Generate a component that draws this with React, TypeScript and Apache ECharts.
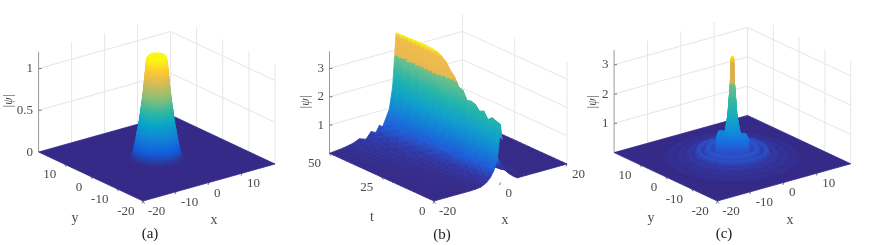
import React, { useEffect, useRef } from "react";
import * as echarts from "echarts";

const N = null;

// ---------- panel (a): radial profile of |psi| ----------
const aRadii = [0, 1, 1.6, 2.0, 2.3, 2.5, 2.8, 3.0, 3.4, 3.8, 4.2, 4.7, 5.1, 5.5, 5.8, 6.1, 6.5];
const aHeights = [1.17, 1.18, 1.21, 1.22, 1.2, 1.15, 1.0, 0.89, 0.72, 0.575, 0.43, 0.3, 0.19, 0.1, 0.05, 0.02, 0];

// ---------- panel (c): radial profile and angular lump ----------
const cRadii = [0, 0.3, 0.5, 0.8, 1.1, 1.7, 2.2, 2.8, 3.3, 3.7, 4, 4.5, 5, 5.5, 6, 6.5, 7, 7.5, 8, 8.5, 9, 9.5, 10, 10.5, 11, 11.5, 12, 12.5, 13, 13.5, 14, 14.5, 15, 15.5, 16, 16.5, 17];
const cHeights = [3.48, 3.4, 2.55, 2.0, 1.45, 0.95, 0.72, 0.74, 0.72, 0.6, 0.26, 0.2, 0.2, 0.34, 0.38, 0.26, 0.14, 0.22, 0.32, 0.28, 0.13, 0.09, 0.17, 0.18, 0.1, 0.05, 0.08, 0.12, 0.08, 0.04, 0.04, 0.07, 0.08, 0.05, 0.02, 0.01, 0];
// multiplier on inner rings (r 2..5) per 15-degree sector
const cLump = [0.95, 1.0, 1.05, 1.05, 1.0, 0.95, 0.9, 0.95, 1.15, 1.25, 1.15, 0.85, 0.6, 0.5, 0.45, 0.45, 0.5, 0.5, 0.55, 0.7, 1.0, 1.15, 1.1, 1.0];

// ---------- panel (b): |psi|(x, t) ----------
const bX = [-20, -16, -13, -11, -9, -7.5, -6, -5, -4, -3, -2, -1, -0.5, 0, 0.5, 1, 2, 3, 5, 8, 12, 20];
const bT = [0, 2, 4, 6, 8, 10, 12, 14, 16, 18, 20, 22, 24, 26, 28, 30, 32, 34, 36, 38, 40, 42, 44, 46, 48, 50];
const bRows = [
  [0, 0, 0, 0, 0, 0.01, 0.03, 0.08, 0.16, 0.28, 0.48, 0.8, 1.3, 2.05, 1.5, N, N, N, 0, 0, 0, 0],
  [0, 0, 0, 0, 0.01, 0.02, 0.05, 0.12, 0.22, 0.34, 0.5, 0.9, 1.4, 2.1, 1.6, N, N, N, 0, 0, 0, 0],
  [0, 0, 0, 0.01, 0.01, 0.03, 0.07, 0.1, 0.2, 0.4, 0.6, 0.78, 1.3, 2.15, 1.8, 1.3, N, N, 0.02, 0, 0, 0],
  [0, 0, 0, 0.01, 0.02, 0.05, 0.06, 0.15, 0.18, 0.3, 0.52, 0.95, 1.45, 2.02, 1.85, 1.35, 0.95, 0.55, 0.08, 0, 0, 0],
  [0, 0, 0.01, 0.01, 0.03, 0.03, 0.09, 0.11, 0.27, 0.38, 0.66, 0.85, 1.5, 2.25, 1.8, 1.3, 0.7, 0.35, 0.05, 0, 0, 0],
  [0, 0, 0.01, 0.02, 0.02, 0.06, 0.07, 0.18, 0.2, 0.33, 0.55, 1.0, 1.35, 2.18, 1.7, 1.1, 0.5, 0.2, 0.03, 0, 0, 0],
  [0, 0, 0.01, 0.02, 0.04, 0.05, 0.12, 0.13, 0.3, 0.44, 0.72, 0.88, 1.6, 2.35, 1.7, 1.0, 0.4, 0.15, 0.02, 0, 0, 0],
  [0, 0.01, 0.01, 0.03, 0.03, 0.08, 0.09, 0.22, 0.24, 0.36, 0.6, 1.1, 1.4, 2.4, 1.8, 0.9, 0.3, 0.1, 0.01, 0, 0, 0],
  [0, 0.01, 0.02, 0.02, 0.05, 0.06, 0.14, 0.16, 0.35, 0.5, 0.55, 0.8, 1.5, 2.36, 1.9, 0.85, 0.25, 0.08, 0, 0, 0, 0],
  [0, 0.01, 0.02, 0.04, 0.04, 0.1, 0.1, 0.25, 0.28, 0.4, 0.5, 0.9, 1.35, 2.65, 2.0, 0.8, 0.2, 0.06, 0, 0, 0, 0],
  [0, 0.01, 0.03, 0.03, 0.07, 0.07, 0.17, 0.2, 0.38, 0.42, 0.7, 1.0, 1.7, 2.7, 2.1, 0.7, 0.18, 0.05, 0, 0, 0, 0],
  [0, 0.01, 0.02, 0.05, 0.05, 0.12, 0.13, 0.3, 0.28, 0.46, 0.62, 1.2, 1.6, 3.0, 2.2, 0.7, 0.18, 0.04, 0, 0, 0, 0],
  [0, 0.02, 0.04, 0.04, 0.09, 0.09, 0.2, 0.22, 0.42, 0.5, 0.78, 1.05, 1.9, 3.15, 2.3, 0.8, 0.18, 0.04, 0, 0, 0, 0],
  [0, 0.02, 0.03, 0.07, 0.07, 0.15, 0.15, 0.34, 0.32, 0.48, 0.7, 1.25, 2.0, 3.38, 2.4, 0.9, 0.2, 0.04, 0, 0, 0, 0],
  [0, 0.02, 0.05, 0.05, 0.11, 0.11, 0.24, 0.25, 0.46, 0.55, 0.85, 1.15, 2.3, 3.5, 2.5, 1.0, 0.22, 0.04, 0, 0, 0, 0],
  [0, 0.02, 0.04, 0.09, 0.08, 0.19, 0.18, 0.38, 0.34, 0.5, 0.75, 1.4, 2.55, 3.6, 2.6, 1.1, 0.25, 0.05, 0, 0, 0, 0],
  [0, 0.03, 0.06, 0.07, 0.14, 0.14, 0.28, 0.28, 0.5, 0.6, 0.92, 1.25, 2.62, 3.62, 2.6, 1.2, 0.28, 0.06, 0, 0, 0, 0],
  [0, 0.02, 0.05, 0.12, 0.1, 0.23, 0.2, 0.42, 0.38, 0.55, 0.82, 1.55, 2.6, 3.64, 2.6, 1.2, 0.3, 0.06, 0, 0, 0, 0],
  [0, 0.04, 0.08, 0.09, 0.17, 0.16, 0.32, 0.3, 0.52, 0.62, 1.0, 1.35, 2.66, 3.65, 2.6, 1.2, 0.3, 0.08, 0, 0, 0, 0],
  [0, 0.03, 0.06, 0.15, 0.12, 0.27, 0.24, 0.46, 0.42, 0.58, 0.86, 1.65, 2.62, 3.64, 2.6, 1.2, 0.3, 0.08, 0, 0, 0, 0],
  [0, 0.05, 0.1, 0.11, 0.2, 0.2, 0.36, 0.34, 0.56, 0.68, 1.05, 1.45, 2.68, 3.64, 2.6, 1.2, 0.3, 0.08, 0, 0, 0, 0],
  [0, 0.03, 0.07, 0.18, 0.14, 0.3, 0.26, 0.5, 0.46, 0.62, 0.9, 1.75, 2.64, 3.63, 2.6, 1.2, 0.3, 0.08, 0, 0, 0, 0],
  [0, 0.06, 0.12, 0.14, 0.24, 0.22, 0.4, 0.38, 0.6, 0.72, 1.08, 1.5, 2.7, 3.62, 2.6, 1.2, 0.3, 0.08, 0, 0, 0, 0],
  [0, 0.04, 0.09, 0.2, 0.16, 0.33, 0.3, 0.54, 0.48, 0.66, 0.92, 1.8, 2.66, 3.62, 2.6, 1.2, 0.3, 0.08, 0, 0, 0, 0],
  [0, 0.07, 0.14, 0.16, 0.27, 0.26, 0.42, 0.4, 0.62, 0.78, 1.1, 1.6, 2.7, 3.6, 2.6, 1.2, 0.3, 0.08, 0, 0, 0, 0],
  [0, 0.05, 0.12, 0.22, 0.14, 0.36, 0.28, 0.5, 0.42, 0.7, 0.98, 1.75, 2.68, 3.6, 2.6, 1.2, 0.3, 0.08, 0, 0, 0, 0],
];

// ---------- colour ramps: [height, colour] ----------
const aRamp: [number, string][] = [[0, "#352a87"], [0.15, "#1060dc"], [0.3, "#1481d6"], [0.45, "#06a4ca"], [0.6, "#2eb7a4"], [0.76, "#87bf77"], [0.92, "#d1bb59"], [1.07, "#fec832"], [1.22, "#f9fb0e"]];
const bRamp: [number, string][] = [[0, "#352a87"], [0.25, "#3038a8"], [0.55, "#1e5fd8"], [1.0, "#1481d6"], [1.5, "#10a0cc"], [2.1, "#22b4ac"], [2.84, "#72c088"], [2.86, "#e8b850"], [3.46, "#f0bc4c"], [3.64, "#f9fb0e"]];
const cRamp: [number, string][] = [[0, "#352a87"], [0.15, "#3336a0"], [0.32, "#2a50c8"], [0.6, "#1a6ce0"], [1.0, "#0e90d8"], [1.4, "#12a8c4"], [1.8, "#28b4a8"], [2.54, "#6cbf85"], [2.58, "#d8b050"], [3.25, "#dcb04e"], [3.48, "#f9e010"]];

// ---------- tick labels ----------
const aZ = [0, 0.5, 1];
const bZ = [1, 2, 3];
const cZ = [1, 2, 3];
const xTicksAC = [-20, -10, 0, 10];
const yTicksAC = [-20, -10, 0, 10];
const xTicksB = [-20, 0, 20];
const tTicksB = [0, 25, 50];

type P = { o: number[]; ex: number[]; ey: number[]; ez: number; xMin: number; yMin: number; xMax: number; yMax: number };
const pA: P = { o: [143, 201], ex: [3.3, -0.925], ey: [-2.61, -1.225], ez: 83.5, xMin: -20, yMin: -20, xMax: 20, yMax: 20 };
const pB: P = { o: [434, 201], ex: [3.325, -0.925], ey: [-2.09, -0.954], ez: 28.3, xMin: -20, yMin: 0, xMax: 20, yMax: 50 };
const pC: P = { o: [717.3, 201], ex: [3.335, -0.93], ey: [-2.58, -1.21], ez: 29.3, xMin: -20, yMin: -20, xMax: 20, yMax: 20 };

const proj = (p: P, x: number, y: number, z: number) => [
  p.o[0] + (x - p.xMin) * p.ex[0] + (y - p.yMin) * p.ey[0],
  p.o[1] + (x - p.xMin) * p.ex[1] + (y - p.yMin) * p.ey[1] - z * p.ez,
];

const hex = (c: string) => [1, 3, 5].map((i) => parseInt(c.slice(i, i + 2), 16));
function rampColor(ramp: [number, string][], z: number) {
  if (z <= ramp[0][0]) return ramp[0][1];
  for (let i = 1; i < ramp.length; i++) {
    if (z <= ramp[i][0]) {
      const f = (z - ramp[i - 1][0]) / (ramp[i][0] - ramp[i - 1][0]);
      const a = hex(ramp[i - 1][1]);
      const b = hex(ramp[i][1]);
      return `rgb(${a.map((v, k) => Math.round(v + (b[k] - v) * f)).join(",")})`;
    }
  }
  return ramp[ramp.length - 1][1];
}

type Quad = { pts: number[][]; fill: any; depth: number };
function makeQuad(p: P, ramp: [number, string][], c: number[][]): Quad {
  const pts = c.map((q) => proj(p, q[0], q[1], q[2]));
  const zs = c.map((q) => q[2]);
  const zMax = Math.max(...zs);
  const zMin = Math.min(...zs);
  const fx = c.reduce((s, q) => s + q[0], 0) / 4;
  const fy = c.reduce((s, q) => s + q[1], 0) / 4;
  const depth = proj(p, fx, fy, 0)[1];
  let fill: any = rampColor(ramp, (zMax + zMin) / 2);
  if (zMax - zMin > 0.015) {
    const stops = [{ offset: 0, color: rampColor(ramp, zMax) }];
    ramp.forEach(([z]) => {
      if (z < zMax && z > zMin) stops.push({ offset: (zMax - z) / (zMax - zMin), color: rampColor(ramp, z) });
    });
    stops.push({ offset: 1, color: rampColor(ramp, zMin) });
    stops.sort((a, b) => a.offset - b.offset);
    fill = { type: "linear", x: 0, y: 0, x2: 0, y2: 1, colorStops: stops };
  }
  return { pts, fill, depth };
}

function polarQuads(p: P, ramp: [number, string][], radii: number[], heights: number[], sectors: number, lump?: number[]) {
  const quads: Quad[] = [];
  const h = (i: number, j: number) => {
    const r = radii[i];
    const m = lump && r >= 2 && r <= 5 ? lump[j % lump.length] : 1;
    return heights[i] * m;
  };
  for (let i = 0; i < radii.length - 1; i++) {
    for (let j = 0; j < sectors; j++) {
      const a0 = (j / sectors) * 2 * Math.PI;
      const a1 = ((j + 1) / sectors) * 2 * Math.PI;
      quads.push(
        makeQuad(p, ramp, [
          [radii[i] * Math.cos(a0), radii[i] * Math.sin(a0), h(i, j)],
          [radii[i + 1] * Math.cos(a0), radii[i + 1] * Math.sin(a0), h(i + 1, j)],
          [radii[i + 1] * Math.cos(a1), radii[i + 1] * Math.sin(a1), h(i + 1, j + 1)],
          [radii[i] * Math.cos(a1), radii[i] * Math.sin(a1), h(i, j + 1)],
        ])
      );
    }
  }
  return quads;
}

function gridQuads(p: P, ramp: [number, string][]) {
  const quads: Quad[] = [];
  for (let r = 0; r < bT.length - 1; r++) {
    for (let c = 0; c < bX.length - 1; c++) {
      const v = [bRows[r][c], bRows[r][c + 1], bRows[r + 1][c + 1], bRows[r + 1][c]];
      if (v.some((q) => q === null)) continue;
      quads.push(
        makeQuad(p, ramp, [
          [bX[c], bT[r], v[0] as number],
          [bX[c + 1], bT[r], v[1] as number],
          [bX[c + 1], bT[r + 1], v[2] as number],
          [bX[c], bT[r + 1], v[3] as number],
        ])
      );
    }
  }
  return quads;
}

const FLOOR = "#352a87";
function floorQuad(p: P): Quad {
  return {
    pts: [proj(p, p.xMin, p.yMin, 0), proj(p, p.xMax, p.yMin, 0), proj(p, p.xMax, p.yMax, 0), proj(p, p.xMin, p.yMax, 0)],
    fill: FLOOR,
    depth: -1e6,
  };
}

const surfaces: Quad[][] = [
  [floorQuad(pA), ...polarQuads(pA, aRamp, aRadii, aHeights, 36)],
  gridQuads(pB, bRamp),
  [floorQuad(pC), ...polarQuads(pC, cRamp, cRadii, cHeights, 24, cLump)],
].map((q) => q.sort((a, b) => a.depth - b.depth));

// ---------- guides ----------
type Line = { a: number[]; b: number[]; color: string; w: number };
const GRID = "#e6e6e6";
const AXIS = "#9a9a9a";
function guides(p: P, zs: number[], zTop: number, backTop: number, leftV: number[], rightV: number[], xT: number[], yT: number[]) {
  const L: Line[] = [];
  const add = (a: number[], b: number[], color = GRID, w = 1) => L.push({ a, b, color, w });
  zs.forEach((z) => {
    add(proj(p, p.xMin, p.yMax, z), proj(p, p.xMax, p.yMax, z));
    add(proj(p, p.xMax, p.yMax, z), proj(p, p.xMax, p.yMin, z));
    const q = proj(p, p.xMin, p.yMax, z);
    add(q, [q[0] + 3, q[1]], "#777777");
  });
  leftV.forEach((x) => add(proj(p, x, p.yMax, 0), proj(p, x, p.yMax, zTop)));
  rightV.forEach((y) => add(proj(p, p.xMax, y, 0), proj(p, p.xMax, y, zTop)));
  add(proj(p, p.xMax, p.yMax, 0), proj(p, p.xMax, p.yMax, backTop));
  add(proj(p, p.xMin, p.yMax, 0), proj(p, p.xMin, p.yMax, zTop), AXIS, 1);
  xT.forEach((x) => {
    const q = proj(p, x, p.yMin, 0);
    add(q, [q[0] - 1, q[1] + 2.5], "#777777");
  });
  yT.forEach((y) => {
    const q = proj(p, p.xMin, y, 0);
    add(q, [q[0] + 1.5, q[1] + 2.5], "#777777");
  });
  return L;
}
const lines: Line[] = [
  ...guides(pA, [0.5, 1], 1.2, 1, [-10, 0, 10], [10, 0, -10, -20], xTicksAC, yTicksAC),
  ...guides(pB, bZ, 3.6, 3.6, [], [25, 0], xTicksB, tTicksB),
  ...guides(pC, [1, 2, 3], 3.5, 3, [-10, 0, 10], [10, 0, -10, -20], xTicksAC, yTicksAC),
];

// ---------- texts ----------
type Txt = { s: string; x: number; y: number; align: string; font: string; fill: string; rot?: number };
const TICK = "13px 'Liberation Serif'";
const TC = "#4a4a4a";
const texts: Txt[] = [];
function axisTexts(p: P, zs: number[], xT: number[], yT: number[], xLab: number[], yLab: number[], yName: string, psi: number[], cap: string, capPos: number[]) {
  zs.forEach((z) => {
    const q = proj(p, p.xMin, p.yMax, z);
    texts.push({ s: String(z), x: q[0] - 5.5, y: q[1] - 1, align: "right", font: TICK, fill: TC });
  });
  xT.forEach((x) => {
    const q = proj(p, x, p.yMin, 0);
    texts.push({ s: String(x), x: q[0] + 5, y: q[1] + 9.5, align: "left", font: TICK, fill: TC });
  });
  yT.forEach((y) => {
    const q = proj(p, p.xMin, y, 0);
    texts.push({ s: String(y), x: q[0] - 8.5, y: q[1] + 9.5, align: "right", font: TICK, fill: TC });
  });
  texts.push({ s: "x", x: xLab[0], y: xLab[1], align: "center", font: "14px 'Liberation Serif'", fill: TC });
  texts.push({ s: yName, x: yLab[0], y: yLab[1], align: "center", font: "14px 'Liberation Serif'", fill: TC });
  texts.push({ s: "|ψ|", x: psi[0], y: psi[1], align: "center", font: "italic 12px 'Liberation Serif'", fill: TC, rot: Math.PI / 2 });
  texts.push({ s: cap, x: capPos[0], y: capPos[1], align: "center", font: "15px 'Liberation Serif'", fill: "#222222" });
}
axisTexts(pA, aZ, xTicksAC, yTicksAC, [214, 219], [75, 217], "y", [8, 101], "(a)", [150, 233]);
axisTexts(pB, bZ, xTicksB, tTicksB, [505, 219], [372, 216], "t", [305, 102], "(b)", [442, 234]);
axisTexts(pC, cZ, xTicksAC, yTicksAC, [790, 219], [651, 217], "y", [592, 102], "(c)", [724, 233]);

export default function App() {
  const ref = useRef<HTMLDivElement>(null);
  useEffect(() => {
    const chart = echarts.init(ref.current!, undefined, { renderer: "svg" });
    const surfaceSeries = surfaces.map((qs) => ({
      type: "custom",
      coordinateSystem: "cartesian2d",
      clip: false,
      silent: true,
      progressive: 0,
      data: qs.map((q, i) => [q.pts[0][0], q.pts[0][1], i]),
      renderItem: (_: any, api: any) => {
        const q = qs[api.value(2)];
        return {
          type: "polygon",
          shape: { points: q.pts.map((pt) => api.coord(pt)) },
          style: { fill: q.fill, stroke: q.fill, lineWidth: 0.8 },
        };
      },
    }));
    chart.setOption({
      animation: false,
      grid: { left: 0, right: 0, top: 0, bottom: 0 },
      xAxis: { type: "value", min: 0, max: 872, show: false },
      yAxis: { type: "value", min: 0, max: 245, inverse: true, show: false },
      series: [
        {
          type: "custom",
          coordinateSystem: "cartesian2d",
          clip: false,
          silent: true,
          progressive: 0,
          data: lines.map((l, i) => [l.a[0], l.a[1], i]),
          renderItem: (_: any, api: any) => {
            const l = lines[api.value(2)];
            const a = api.coord(l.a);
            const b = api.coord(l.b);
            return {
              type: "line",
              shape: { x1: a[0], y1: a[1], x2: b[0], y2: b[1] },
              style: { stroke: l.color, lineWidth: l.w },
            };
          },
        },
        ...surfaceSeries,
        {
          type: "custom",
          coordinateSystem: "cartesian2d",
          clip: false,
          silent: true,
          progressive: 0,
          data: texts.map((t, i) => [t.x, t.y, i]),
          renderItem: (_: any, api: any) => {
            const t = texts[api.value(2)];
            const c = api.coord([t.x, t.y]);
            return {
              type: "text",
              x: c[0],
              y: c[1],
              rotation: t.rot || 0,
              style: { text: t.s, font: t.font, fill: t.fill, align: t.align, verticalAlign: "middle" },
            };
          },
        },
      ],
    });
    return () => chart.dispose();
  }, []);
  return (
    <div
      ref={ref}
      style={{ position: "absolute", left: 0, top: 0, width: 872, height: 245, background: "#fff", filter: "blur(0.7px)" }}
    />
  );
}
